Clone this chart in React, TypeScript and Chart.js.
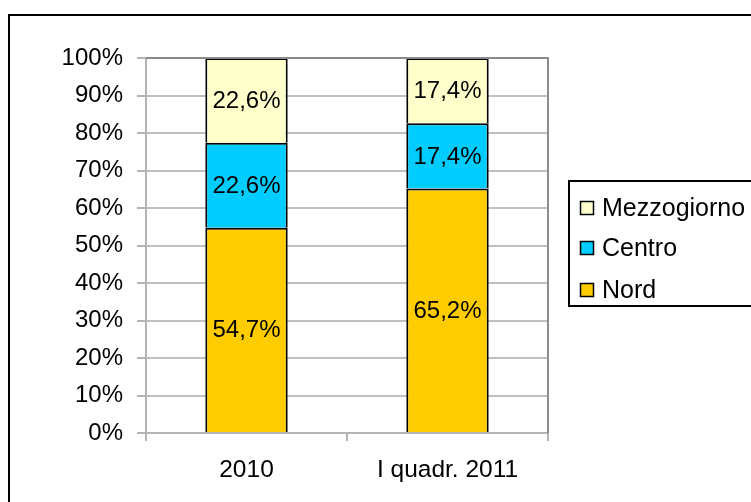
import React, { useEffect, useRef } from "react";
import { Chart, registerables } from "chart.js";

Chart.register(...registerables);

const categories = ["2010", "I quadr. 2011"];
const nordValues = [54.7, 65.2];
const centroValues = [22.6, 17.4];
const mezzogiornoValues = [22.6, 17.4];
const yTickStep = 10;

const FONT = "'Liberation Sans', Arial, sans-serif";

const fmt = (v: number) => v.toFixed(1).replace(".", ",") + "%";

// 100% stacked: each column normalised to its total
const totals = categories.map(
  (_, i) => nordValues[i] + centroValues[i] + mezzogiornoValues[i]
);
const share = (arr: number[]) => arr.map((v, i) => (v / totals[i]) * 100);

const extrasPlugin = {
  id: "extras",
  beforeDraw(chart: any) {
    const { ctx, width, height } = chart;
    ctx.save();
    ctx.fillStyle = "#ffffff";
    ctx.fillRect(0, 0, width, height);
    ctx.restore();
  },
  afterDatasetsDraw(chart: any) {
    const { ctx } = chart;
    ctx.save();
    ctx.font = `24px ${FONT}`;
    ctx.fillStyle = "#000";
    ctx.textAlign = "center";
    ctx.textBaseline = "middle";
    chart.data.datasets.forEach((ds: any, i: number) => {
      const meta = chart.getDatasetMeta(i);
      meta.data.forEach((bar: any, j: number) => {
        const p = bar.getCenterPoint();
        ctx.fillText(fmt(ds.raw[j]), p.x, p.y + 1);
      });
    });
    ctx.restore();
  },
  afterDraw(chart: any) {
    const { ctx, chartArea } = chart;
    ctx.save();
    ctx.strokeStyle = "#8c8c8c";
    ctx.lineWidth = 2;
    ctx.beginPath();
    ctx.moveTo(chartArea.left, chartArea.top);
    ctx.lineTo(chartArea.right, chartArea.top);
    ctx.lineTo(chartArea.right, chartArea.bottom);
    ctx.stroke();

    ctx.strokeStyle = "#000";
    ctx.lineWidth = 2;
    ctx.strokeRect(9, 15, 800, 600);

    ctx.lineWidth = 2;
    ctx.strokeRect(569, 181, 300, 125);
    const items = [
      { label: "Mezzogiorno", color: "#FFFFCC", y: 208 },
      { label: "Centro", color: "#00CCFF", y: 248 },
      { label: "Nord", color: "#FFCC00", y: 290 },
    ];
    ctx.font = `25px ${FONT}`;
    ctx.textAlign = "left";
    ctx.textBaseline = "alphabetic";
    items.forEach((it) => {
      ctx.fillStyle = it.color;
      ctx.fillRect(580.5, it.y - 6.5, 13, 13);
      ctx.strokeStyle = "#000";
      ctx.lineWidth = 1.5;
      ctx.strokeRect(580.5, it.y - 6.5, 13, 13);
      ctx.fillStyle = "#000";
      ctx.fillText(it.label, 602, it.y + 8);
    });
    ctx.restore();
  },
};

export default function App() {
  const ref = useRef<HTMLCanvasElement>(null);
  useEffect(() => {
    document.body.style.margin = "0";
    const chart = new Chart(ref.current!, {
      type: "bar",
      data: {
        labels: categories,
        datasets: [
          {
            label: "Nord",
            data: share(nordValues),
            raw: nordValues,
            backgroundColor: "#FFCC00",
            borderColor: "#000",
            borderWidth: 2,
          } as any,
          {
            label: "Centro",
            data: share(centroValues),
            raw: centroValues,
            backgroundColor: "#00CCFF",
            borderColor: "#000",
            borderWidth: 2,
          } as any,
          {
            label: "Mezzogiorno",
            data: share(mezzogiornoValues),
            raw: mezzogiornoValues,
            backgroundColor: "#FFFFCC",
            borderColor: "#000",
            borderWidth: 2,
          } as any,
        ],
      },
      options: {
        animation: false,
        responsive: false,
        devicePixelRatio: 1,
        layout: { padding: { left: 0, top: 58, right: 203, bottom: 0 } },
        datasets: { bar: { categoryPercentage: 1, barPercentage: 0.41 } },
        plugins: { legend: { display: false }, tooltip: { enabled: false } },
        scales: {
          x: {
            stacked: true,
            afterFit: (s: any) => {
              s.height = 69;
            },
            grid: {
              offset: true,
              drawOnChartArea: false,
              drawTicks: true,
              tickLength: 8,
              tickColor: "#b4b4b4",
              lineWidth: 2,
            },
            border: { color: "#b4b4b4", width: 2 },
            ticks: {
              color: "#000",
              font: { family: FONT, size: 24.5 },
              padding: 15,
              maxRotation: 0,
            },
          },
          y: {
            stacked: true,
            min: 0,
            max: 100,
            afterFit: (s: any) => {
              s.width = 146;
            },
            grid: {
              color: "#c0c0c0",
              lineWidth: 2,
              tickLength: 9,
              tickColor: "#b4b4b4",
            },
            border: { color: "#b4b4b4", width: 2 },
            ticks: {
              stepSize: yTickStep,
              color: "#000",
              font: { family: FONT, size: 24 },
              padding: 14,
              callback: (v: any) => v + "%",
            },
          },
        },
      },
      plugins: [extrasPlugin],
    });
    return () => chart.destroy();
  }, []);
  return <canvas ref={ref} width={751} height={502} style={{ display: "block" }} />;
}
